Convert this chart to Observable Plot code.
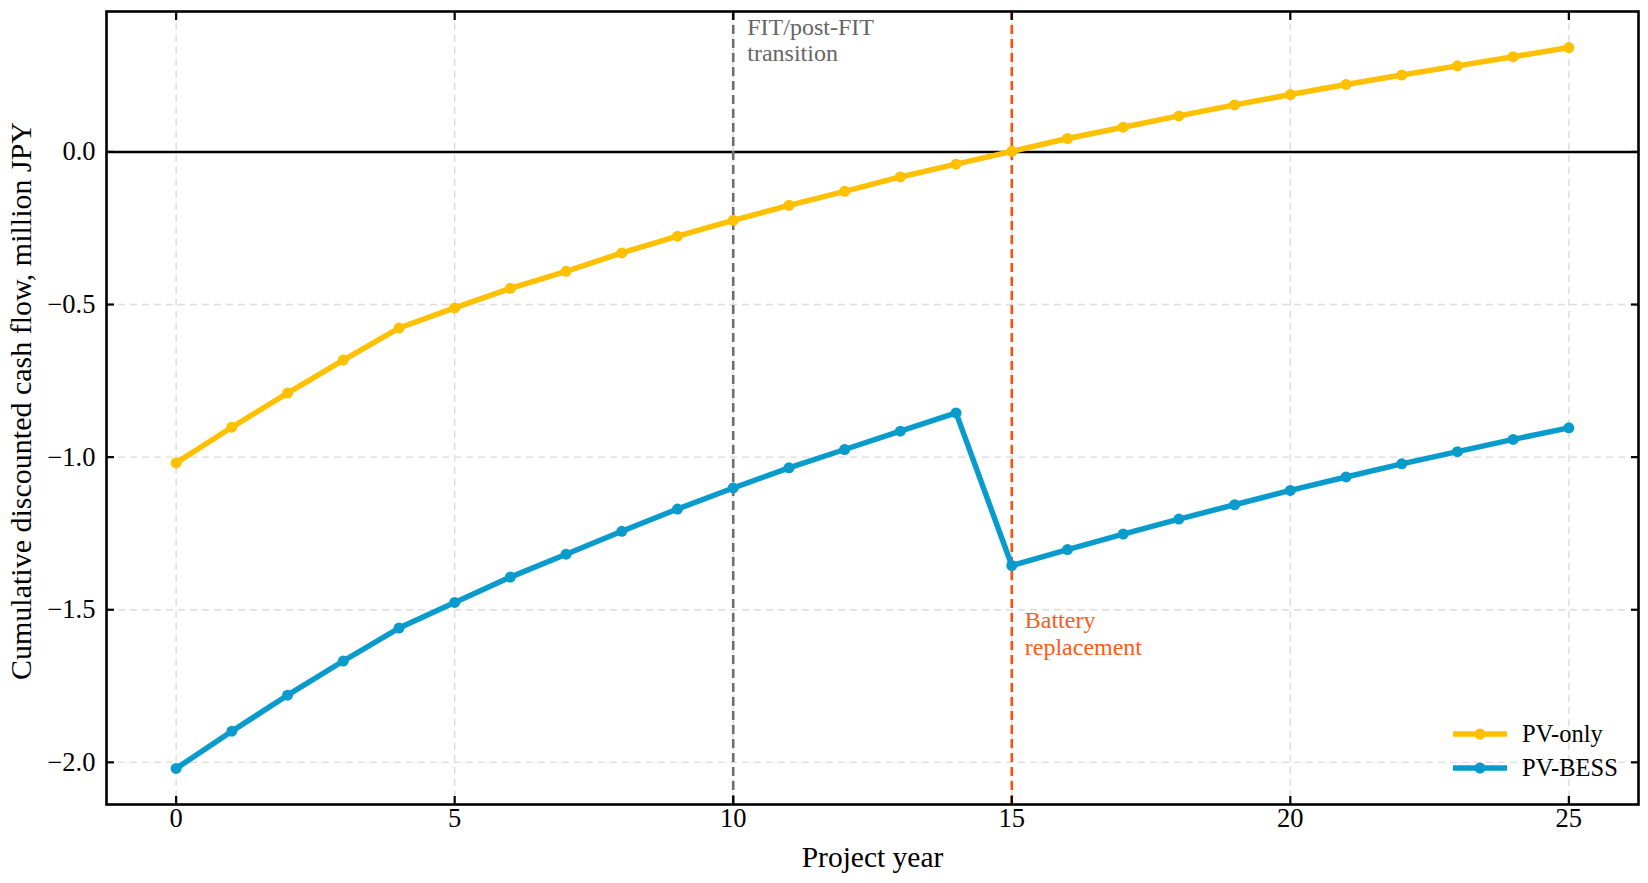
<!DOCTYPE html>
<html>
<head>
<meta charset="utf-8">
<script src="https://cdn.jsdelivr.net/npm/d3@7"></script>
<script src="https://cdn.jsdelivr.net/npm/@observablehq/plot@0.6"></script>
<style>
  html, body { margin: 0; padding: 0; background: #fff; }
  #wrap { position: relative; width: 1648px; height: 883px; font-family: "Liberation Serif", "Times New Roman", serif; }
  #legend { position: absolute; left: 1452px; top: 717px; font-size: 24.5px; color: #000; }
  #legend .row { display: flex; align-items: center; height: 34px; }
  #legend svg { margin-right: 14px; }
</style>
</head>
<body>
<div id="wrap">
  <div id="chart"></div>
  <div id="legend"></div>
</div>
<script>
const years = d3.range(0, 26);
const pvOnly = [-1.019, -0.902, -0.790, -0.682, -0.577, -0.511, -0.447, -0.391, -0.331, -0.276, -0.224, -0.175, -0.129, -0.082, -0.040,
  0.002, 0.044, 0.081, 0.118, 0.154, 0.188, 0.221, 0.252, 0.282, 0.312, 0.342];
const pvBess = [-2.020, -1.898, -1.780, -1.668, -1.560, -1.476, -1.393, -1.318, -1.243, -1.170, -1.101, -1.035, -0.975, -0.915, -0.855,
  -1.355, -1.303, -1.252, -1.203, -1.156, -1.109, -1.065, -1.022, -0.982, -0.942, -0.904];
const seriesNames = ["PV-only", "PV-BESS"];
const seriesColors = ["#FFC000", "#0A9BCD"];
const xTicks = [0, 5, 10, 15, 20, 25];
const yTicks = [-2.0, -1.5, -1.0, -0.5, 0.0];
const fitYear = 10;
const replacementYear = 15;
const fitLabel = "FIT/post-FIT\ntransition";
const replacementLabel = "Battery\nreplacement";
const xLabel = "Project year";
const yLabel = "Cumulative discounted cash flow, million JPY";

const rowsA = years.map((y, i) => ({year: y, value: pvOnly[i]}));
const rowsB = years.map((y, i) => ({year: y, value: pvBess[i]}));

const allVals = pvOnly.concat(pvBess);
const yMin = d3.min(allVals), yMax = d3.max(allVals);
const yPad = (yMax - yMin) * 0.05;
const xPad = 25 * 0.05;

const fmt = d3.format(".1f");
const gridStyle = {stroke: "#dcdcdc", strokeOpacity: 1, strokeWidth: 1.4, strokeDasharray: "7,5"};

const chart = Plot.plot({
  width: 1648,
  height: 883,
  marginTop: 11,
  marginBottom: 79,
  marginLeft: 106,
  marginRight: 10,
  style: {fontFamily: "Liberation Serif, Times New Roman, serif", background: "#fff", color: "#000"},
  x: {domain: [-xPad, 25 + xPad]},
  y: {domain: [yMin - yPad, yMax + yPad]},
  marks: [
    Plot.gridX(xTicks, gridStyle),
    Plot.gridY(yTicks, gridStyle),
    Plot.ruleY([0], {stroke: "#000", strokeWidth: 2.4}),
    Plot.ruleX([fitYear], {stroke: "#6e6e6e", strokeWidth: 2.6, strokeDasharray: "9,5"}),
    Plot.ruleX([replacementYear], {stroke: "#FF4F0A", strokeWidth: 2.6, strokeDasharray: "9,5"}),
    Plot.line(rowsA, {x: "year", y: "value", stroke: seriesColors[0], strokeWidth: 5.5}),
    Plot.dot(rowsA, {x: "year", y: "value", fill: seriesColors[0], r: 5.5}),
    Plot.line(rowsB, {x: "year", y: "value", stroke: seriesColors[1], strokeWidth: 5.5}),
    Plot.dot(rowsB, {x: "year", y: "value", fill: seriesColors[1], r: 5.5}),
    Plot.text([fitLabel], {x: fitYear, y: 0.445, dx: 14, textAnchor: "start", lineAnchor: "top", fontSize: 24, lineHeight: 1.1, fill: "#666"}),
    Plot.text([replacementLabel], {x: replacementYear, y: -1.5, dx: 13, textAnchor: "start", lineAnchor: "top", fontSize: 24, lineHeight: 1.1, fill: "#FF5A14"}),
    Plot.axisX(xTicks, {anchor: "bottom", tickSize: -8, strokeWidth: 2.2, tickPadding: 12, fontSize: 26.5, label: null, tickFormat: d => String(d)}),
    Plot.axisX(xTicks, {anchor: "top", tickSize: -8, strokeWidth: 2.2, fontSize: 25, label: null, tickFormat: () => ""}),
    Plot.axisY(yTicks, {anchor: "left", tickSize: -8, strokeWidth: 2.2, tickPadding: 19, fontSize: 26.5, label: null, tickFormat: fmt}),
    Plot.axisY(yTicks, {anchor: "right", tickSize: -8, strokeWidth: 2.2, fontSize: 25, label: null, tickFormat: () => ""}),
    Plot.frame({stroke: "#000", strokeWidth: 2.6}),
    Plot.text([xLabel], {frameAnchor: "bottom", textAnchor: "middle", dy: 62, fontSize: 29.5, fill: "#000"}),
    Plot.text([yLabel], {frameAnchor: "left", textAnchor: "middle", dx: -85, dy: -7, rotate: -90, fontSize: 30, fill: "#000"})
  ]
});
document.getElementById("chart").appendChild(chart);

const legend = document.getElementById("legend");
seriesNames.forEach((name, i) => {
  const row = document.createElement("div");
  row.className = "row";
  row.innerHTML = `<svg width="56" height="14"><line x1="1" y1="7" x2="55" y2="7" stroke="${seriesColors[i]}" stroke-width="5.5"/><circle cx="28" cy="7" r="5.5" fill="${seriesColors[i]}"/></svg><span>${name}</span>`;
  legend.appendChild(row);
});
</script>
</body>
</html>
